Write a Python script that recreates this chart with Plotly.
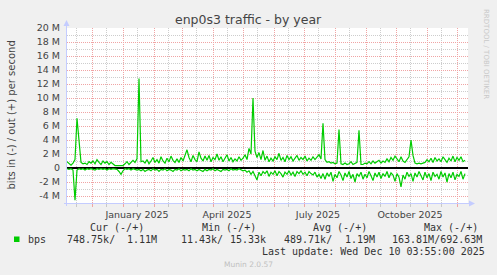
import plotly.graph_objects as go
import pandas as pd

# ---------------- data (Mbit/s) ----------------
start_date = "2024-11-06"
step = "2D"
out_mbps = [
    0.9, 0.6, 0.4, 0.7, 1.2, 7.1, 4.3, 0.8, 0.6, 0.7,
    0.5, 0.9, 0.7, 1.0, 0.6, 1.2, 0.8, 0.5, 1.0, 0.7,
    0.9, 0.5, 0.8, 0.6, 0.35, 0.35, 0.35, 0.35, 0.35, 0.6,
    0.9, 0.5, 0.8, 1.1, 0.8, 1.3, 12.8, 0.9, 1.0, 0.7,
    1.2, 0.6, 1.0, 1.5, 0.8, 1.2, 0.7, 1.6, 1.0, 0.7,
    1.4, 0.9, 1.7, 1.1, 0.8, 1.3, 0.8, 1.5, 1.0, 1.8,
    2.6, 1.5, 0.9, 1.8, 1.2, 0.9, 2.3, 1.4, 1.0, 1.7,
    1.1, 1.8, 0.9, 1.5, 1.2, 2.0, 1.1, 1.6, 0.9, 1.4,
    1.9, 1.0, 1.5, 0.9, 1.3, 1.0, 1.6, 1.1, 1.4, 1.9,
    1.2, 2.8, 2.0, 10.0, 2.4, 1.5, 2.2, 1.2, 2.5, 1.1,
    1.7, 0.9, 1.4, 1.0, 1.6, 1.2, 2.1, 1.1, 1.5, 0.9,
    1.8, 1.2, 1.6, 1.0, 1.4, 1.8, 1.1, 1.5, 1.2, 1.7,
    1.0, 1.4, 1.1, 1.6, 1.2, 1.5, 1.9, 1.3, 6.4, 1.2,
    0.8, 0.9, 0.7, 0.8, 0.6, 0.7, 5.5, 0.6, 0.5, 0.7,
    0.5, 0.6, 0.9, 0.5, 0.6, 0.8, 5.4, 0.5, 0.5, 0.7,
    0.6, 0.9, 0.6, 1.0, 0.7, 0.9, 1.1, 0.7, 1.0, 0.8,
    1.3, 0.9, 1.5, 1.1, 1.7, 1.3, 0.9, 1.6, 1.0, 0.8,
    1.2, 1.6, 4.0, 1.8, 0.7, 0.6, 0.7, 0.6, 0.7, 0.8,
    1.2, 0.9, 1.4, 0.8, 1.5, 1.0, 1.3, 0.9, 1.6, 1.1,
    0.8, 1.4, 1.0, 1.7, 0.9, 1.5, 1.1, 1.6, 0.9, 1.1,
]
in_mbps = [
    0.1, 0.2, 0.1, 0.3, 4.6, 0.3, 0.1, 0.2, 0.1, 0.3,
    0.1, 0.2, 0.1, 0.2, 0.3, 0.1, 0.2, 0.1, 0.2, 0.1,
    0.3, 0.1, 0.2, 0.1, 0.1, 0.2, 0.5, 0.9, 0.4, 0.1,
    0.2, 0.1, 0.3, 0.1, 0.2, 0.3, 0.2, 0.4, 0.2, 0.5,
    0.3, 0.2, 0.4, 0.1, 0.3, 0.2, 0.5, 0.2, 0.3, 0.1,
    0.4, 0.2, 0.3, 0.5, 0.2, 0.3, 0.1, 0.4, 0.2, 0.3,
    0.2, 0.4, 0.1, 0.3, 0.2, 0.4, 0.2, 0.3, 0.5, 0.2,
    0.4, 0.2, 0.3, 0.1, 0.4, 0.2, 0.3, 0.5, 0.2, 0.3,
    0.2, 0.4, 0.1, 0.3, 0.2, 0.3, 0.1, 0.2, 0.4, 0.3,
    0.6, 0.4, 0.9, 0.5, 1.0, 1.7, 0.6, 1.1, 0.5, 0.8,
    0.4, 1.2, 0.6, 0.9, 0.4, 1.1, 0.5, 0.8, 1.3, 0.6,
    0.9, 0.4, 1.0, 0.6, 1.2, 0.5, 0.8, 0.4, 0.9, 0.6,
    1.1, 0.5, 0.8, 1.0, 0.6, 1.3, 0.9, 1.5, 0.8, 1.6,
    0.7, 1.2, 0.6, 1.9, 0.9, 1.4, 0.5, 1.0, 1.8, 0.7,
    1.3, 0.5, 1.5, 0.9, 2.0, 0.8, 1.2, 0.6, 1.6, 0.9,
    1.4, 0.5, 1.1, 1.8, 0.7, 1.3, 0.6, 1.5, 0.8, 1.2,
    0.5, 1.4, 0.7, 1.0, 1.9, 0.8, 1.3, 2.7, 1.0, 1.6,
    0.6, 1.2, 0.8, 1.9, 0.7, 1.3, 0.5, 1.1, 1.7, 0.6,
    1.4, 0.8, 1.8, 0.6, 1.2, 0.9, 1.6, 0.5, 1.3, 0.7,
    2.0, 0.8, 1.4, 0.6, 1.7, 0.9, 1.2, 0.5, 1.6, 0.8,
]

y_tick_vals_m = [-4, -2, 0, 2, 4, 6, 8, 10, 12, 14, 16, 18, 20]
y_tick_text = ["-4 M", "-2 M", "0", "2 M", "4 M", "6 M", "8 M", "10 M",
               "12 M", "14 M", "16 M", "18 M", "20 M"]
y_minor_m = [-5, -3, -1, 1, 3, 5, 7, 9, 11, 13, 15, 17, 19]

month_starts = ["2024-12-01", "2025-01-01", "2025-02-01", "2025-03-01", "2025-04-01",
                "2025-05-01", "2025-06-01", "2025-07-01", "2025-08-01", "2025-09-01",
                "2025-10-01", "2025-11-01", "2025-12-01"]
mid_months = ["2024-11-15", "2024-12-15", "2025-01-15", "2025-02-15", "2025-03-15",
              "2025-04-15", "2025-05-15", "2025-06-15", "2025-07-15", "2025-08-15",
              "2025-09-15", "2025-10-15", "2025-11-15"]
mid_text = ["", "", "January 2025", "", "", "April 2025", "", "", "July 2025",
            "", "", "October 2025", ""]

title = "enp0s3 traffic - by year"
ytitle = "bits in (-) / out (+) per second"
legend_headers = ["Cur (-/+)", "Min (-/+)", "Avg (-/+)", "Max (-/+)"]
last_update = "Last update: Wed Dec 10 03:55:00 2025"

# ---------------- figure ----------------
dates = pd.date_range(start_date, periods=len(out_mbps), freq=step)
GREEN = "#00CC00"

fig = go.Figure()
fig.add_trace(go.Scatter(x=dates, y=[v * 1e6 for v in out_mbps], mode="lines",
                         line=dict(color=GREEN, width=1.2), hoverinfo="skip"))
fig.add_trace(go.Scatter(x=dates, y=[-v * 1e6 for v in in_mbps], mode="lines",
                         line=dict(color=GREEN, width=1.2), hoverinfo="skip"))

L, R, T, B = 67, 468, 28, 203
W, H = R - L, B - T


def px(x):
    return (x - L) / W


def py(y):
    return (B - y) / H


RED = "#F0A4A4"
GRAY = "#CDCDCD"
DOTS = "1px,1px"

fig.update_layout(
    width=497, height=275, autosize=False,
    margin=dict(l=L, r=497 - R, t=T, b=275 - B, pad=0),
    paper_bgcolor="#F0F0F0", plot_bgcolor="#FFFFFF",
    showlegend=False,
    font=dict(family="DejaVu Sans", size=9.5, color="#444"),
    xaxis=dict(
        type="date", range=["2024-11-06", "2025-12-12"],
        tickmode="array", tickvals=mid_months, ticktext=mid_text,
        showgrid=True, gridcolor=GRAY, griddash=DOTS, gridwidth=1,
        ticks="outside", ticklen=3, tickcolor="#C8C8C8",
        tickfont=dict(family="DejaVu Sans", size=9.5, color="#444"),
        minor=dict(tickmode="array", tickvals=month_starts, showgrid=True,
                   gridcolor=RED, griddash=DOTS, gridwidth=1,
                   ticks="outside", ticklen=3, tickcolor=RED),
        showline=False, zeroline=False, fixedrange=True,
    ),
    yaxis=dict(
        range=[-5e6, 20e6],
        tickmode="array", tickvals=[v * 1e6 for v in y_tick_vals_m], ticktext=y_tick_text,
        showgrid=True, gridcolor=RED, griddash=DOTS, gridwidth=1,
        ticks="", ticklabelstandoff=6,
        tickfont=dict(family="DejaVu Sans", size=9.5, color="#444"),
        minor=dict(tickmode="array", tickvals=[v * 1e6 for v in y_minor_m], showgrid=True,
                   gridcolor=GRAY, griddash=DOTS, gridwidth=1),
        zeroline=True, zerolinecolor="#000000", zerolinewidth=1.6,
        showline=False, fixedrange=True,
    ),
)

AX = "#C4CCFF"
shapes = [
    # left axis with arrow
    dict(type="line", xref="paper", yref="paper", x0=px(66.5), x1=px(66.5), y0=py(206), y1=py(24),
         line=dict(color=AX, width=1)),
    dict(type="path", xref="paper", yref="paper",
         path=f"M {px(63.5)} {py(26)} L {px(69.5)} {py(26)} L {px(66.5)} {py(20)} Z",
         fillcolor=AX, line=dict(width=0)),
    # bottom axis with arrow
    dict(type="line", xref="paper", yref="paper", x0=px(64), x1=px(470), y0=py(203.5), y1=py(203.5),
         line=dict(color=AX, width=1)),
    dict(type="path", xref="paper", yref="paper",
         path=f"M {px(469)} {py(200.5)} L {px(469)} {py(206.5)} L {px(475)} {py(203.5)} Z",
         fillcolor=AX, line=dict(width=0)),
    # legend colour box
    dict(type="rect", xref="paper", yref="paper", x0=px(14), x1=px(19.5), y0=py(242), y1=py(236.5),
         fillcolor=GREEN, line=dict(width=0)),
]
fig.update_layout(shapes=shapes)

MONO = "DejaVu Sans Mono"
ann = []


def text(s, x, y, anchor="left", size=10, color="#333", family=MONO, angle=0):
    ann.append(dict(text=s, x=px(x), y=py(y), xref="paper", yref="paper",
                    xanchor=anchor, yanchor="middle", showarrow=False,
                    textangle=angle, borderpad=0,
                    font=dict(family=family, size=size, color=color)))


text(title, 248, 19.5, anchor="center", size=12.5, color="#444", family="DejaVu Sans")
text(ytitle, 10.5, 115, anchor="center", size=10, color="#444", family="DejaVu Sans", angle=-90)
text("RRDTOOL / TOBI OETIKER", 486.5, 53.5, anchor="center", size=7, color="#C8C8C8",
     family="DejaVu Sans", angle=90)

hx = [89.3, 201, 312.3, 422.7]
for h, x in zip(legend_headers, hx):
    text(h, x, 227.7)
text("bps", 26.7, 239.3)
text("748.75k/", 66, 239.3)
text("1.11M", 158.3, 239.3, anchor="right")
text("11.43k/", 180.3, 239.3)
text("15.33k", 266.7, 239.3, anchor="right")
text("489.71k/", 282.7, 239.3)
text("1.19M", 375.7, 239.3, anchor="right")
text("163.81M/692.63M", 391, 239.3)
text(last_update, 261, 251.7)
text("Munin 2.0.57", 248, 264.3, anchor="center", size=7.5, color="#C0C0C0", family="DejaVu Sans")

fig.update_layout(annotations=ann)
fig.write_html("out.html")
